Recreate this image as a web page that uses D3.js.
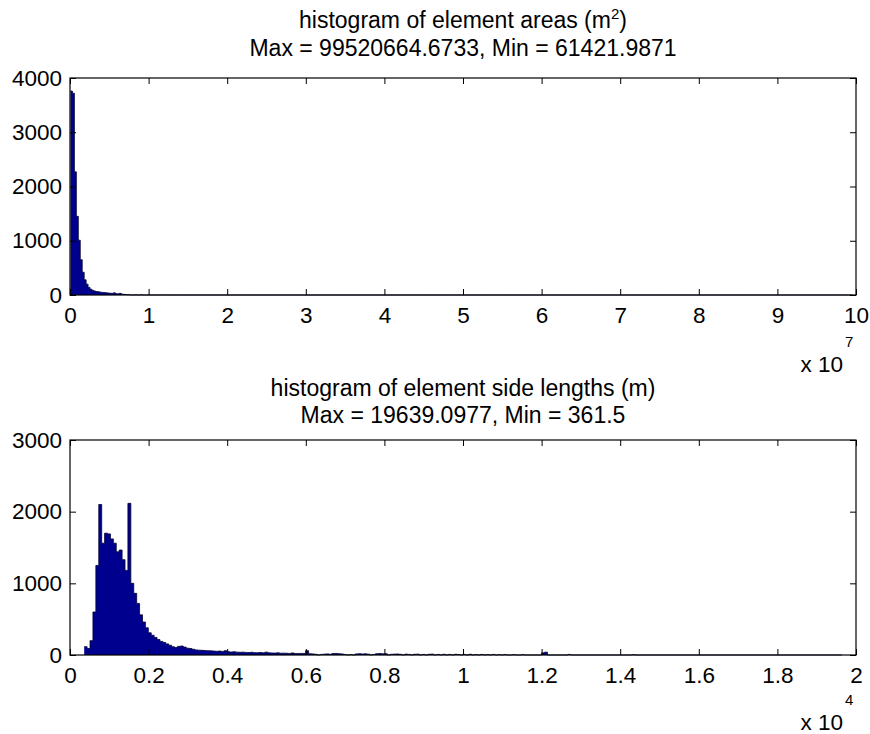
<!DOCTYPE html>
<html>
<head>
<meta charset="utf-8">
<script src="https://cdn.jsdelivr.net/npm/d3@7"></script>
<style>
  html, body { margin: 0; padding: 0; background: #fff; }
  svg { display: block; }
  text { font-family: "Liberation Sans", Arial, Helvetica, sans-serif; fill: #000; }
</style>
</head>
<body>
<script>
// ---- element areas (m^2): 400 equal bins between min and max ----
const areaMin = 61421.9871;
const areaMax = 99520664.6733;
const areaBinCount = 400;
// counts of the first bins, in order
const areaCounts = [3760, 3720, 2270, 1450, 1010, 650, 420, 280, 200, 140,
                    105, 85, 72, 64, 58, 52, 48, 44, 40, 36,
                    33, 30, 40, 25, 22, 30, 15, 12, 8, 6, 5];
// isolated bins further out: [bin index, count]
const areaTail = [[33, 4], [36, 3], [40, 2], [47, 2], [55, 1], [399, 1]];
const areaTicks = [0, 1e7, 2e7, 3e7, 4e7, 5e7, 6e7, 7e7, 8e7, 9e7, 1e8];
const areaTickLabels = ["0", "1", "2", "3", "4", "5", "6", "7", "8", "9", "10"];
const areaYTicks = [0, 1000, 2000, 3000, 4000];
const areaExponent = "7";

// ---- element side lengths (m): 260 equal bins between min and max ----
const sideMin = 361.5;
const sideMax = 19639.0977;
const sideBinCount = 260;
const sideCounts = [116, 90, 200, 600, 1250, 2100, 1560, 1700, 1690, 1620,
                    1560, 1440, 1465, 1330, 1180, 2116, 1000, 860, 720, 560,
                    460, 380, 310, 275, 245, 215, 190, 175, 155, 135,
                    115, 105, 120, 125, 110, 95, 90, 80, 70, 68,
                    65, 62, 60, 58, 55, 52, 55, 50, 60, 45,
                    42, 45, 40, 38, 40, 36, 35, 38, 33, 32,
                    35, 30, 40, 30, 28, 27, 30, 25, 26, 24,
                    22, 28, 22, 20, 22, 22, 60, 18, 15, 10];
const sideTail = [[81, 8], [82, 12], [83, 15], [84, 10], [85, 20], [86, 22], [87, 18],
                  [88, 15], [89, 8], [91, 6], [93, 15], [94, 18], [95, 14], [96, 16],
                  [97, 12], [99, 8], [100, 18], [101, 20], [102, 16], [103, 18], [105, 10],
                  [106, 12], [107, 14], [108, 10], [110, 12], [111, 8], [113, 10], [114, 12],
                  [116, 8], [118, 10], [119, 12], [121, 8], [123, 10], [125, 8], [127, 10],
                  [128, 6], [130, 8], [132, 10], [134, 6], [136, 8], [138, 6], [140, 8],
                  [142, 5], [144, 6], [147, 5], [150, 4], [157, 30], [158, 40], [166, 8],
                  [188, 4], [259, 1]];
const sideTicks = [0, 2000, 4000, 6000, 8000, 10000, 12000, 14000, 16000, 18000, 20000];
const sideTickLabels = ["0", "0.2", "0.4", "0.6", "0.8", "1", "1.2", "1.4", "1.6", "1.8", "2"];
const sideYTicks = [0, 1000, 2000, 3000];
const sideExponent = "4";

const W = 870, H = 734;
const barColor = "#00008f";
const tickLen = 6;

const svg = d3.select("body").append("svg")
  .attr("width", W).attr("height", H)
  .attr("viewBox", `0 0 ${W} ${H}`);
svg.append("rect").attr("width", W).attr("height", H).attr("fill", "#fff");

// Full list of bins (empty bins count 0), each with its left/right edge.
function buildBins(min, max, n, dense, tail) {
  const w = (max - min) / n;
  const counts = new Array(n).fill(0);
  dense.forEach((c, i) => { counts[i] = c; });
  tail.forEach(([i, c]) => { counts[i] = c; });
  return counts.map((c, i) => ({ x0: min + i * w, x1: min + (i + 1) * w, count: c }));
}

function drawPanel(opts) {
  const { left, right, top, bottom, xDomain, yDomain, bins, xTicks, xLabels, yTicks,
          title1, title2, t1y, t2y, exponent, expY } = opts;
  const x = d3.scaleLinear().domain(xDomain).range([left, right]);
  const y = d3.scaleLinear().domain(yDomain).range([bottom, top]);
  const g = svg.append("g");

  // histogram as one stepped silhouette: left edge of every bin, then the last right edge
  const steps = bins.map(b => ({ xv: b.x0, c: b.count }));
  steps.push({ xv: bins[bins.length - 1].x1, c: bins[bins.length - 1].count });
  const area = d3.area().curve(d3.curveStepAfter)
    .x(d => x(d.xv)).y0(bottom).y1(d => y(d.c));
  const line = d3.line().curve(d3.curveStepAfter)
    .x(d => x(d.xv)).y(d => y(d.c));
  g.append("path").datum(steps).attr("d", area).attr("fill", barColor);
  g.append("path").datum(steps).attr("d", line)
    .attr("fill", "none").attr("stroke", "#000030").attr("stroke-width", 0.8);

  // axes with inward ticks on all four sides
  const fmtX = (d, i) => xLabels[i];
  const axB = g.append("g").attr("transform", `translate(0,${bottom})`)
    .call(d3.axisBottom(x).tickValues(xTicks).tickFormat(fmtX).tickSize(-tickLen).tickPadding(12.5));
  const axT = g.append("g").attr("transform", `translate(0,${top})`)
    .call(d3.axisTop(x).tickValues(xTicks).tickFormat("").tickSize(-tickLen));
  const axL = g.append("g").attr("transform", `translate(${left},0)`)
    .call(d3.axisLeft(y).tickValues(yTicks).tickFormat(d3.format("d")).tickSize(-tickLen).tickPadding(8));
  const axR = g.append("g").attr("transform", `translate(${right},0)`)
    .call(d3.axisRight(y).tickValues(yTicks).tickFormat("").tickSize(-tickLen));
  [axB, axT, axL, axR].forEach(a => {
    a.select(".domain").remove();
    a.selectAll("line").attr("stroke", "#000").attr("stroke-width", 1);
    a.selectAll("text").attr("font-size", 22.5).attr("fill", "#000")
      .attr("font-family", "'Liberation Sans', Arial, sans-serif");
  });

  // frame
  g.append("rect")
    .attr("x", left).attr("y", top)
    .attr("width", right - left).attr("height", bottom - top)
    .attr("fill", "none").attr("stroke", "#000").attr("stroke-width", 1.2);

  // titles
  const cx = (left + right) / 2;
  const t1 = g.append("text").attr("x", cx).attr("y", t1y)
    .attr("text-anchor", "middle").attr("font-size", 23);
  title1(t1);
  g.append("text").attr("x", cx).attr("y", t2y)
    .attr("text-anchor", "middle").attr("font-size", 23).text(title2);

  // exponent note under the right end of the x axis
  g.append("text").attr("x", 843).attr("y", expY)
    .attr("text-anchor", "end").attr("font-size", 22.5).text("x 10");
  g.append("text").attr("x", 845).attr("y", expY - 25)
    .attr("font-size", 15).text(exponent);
}

drawPanel({
  left: 70, right: 856, top: 78, bottom: 295,
  xDomain: [0, 1e8], yDomain: [0, 4000],
  bins: buildBins(areaMin, areaMax, areaBinCount, areaCounts, areaTail),
  xTicks: areaTicks, xLabels: areaTickLabels, yTicks: areaYTicks,
  title1: t => {
    t.append("tspan").text("histogram of element areas (m");
    t.append("tspan").attr("font-size", 15).attr("dy", -9).text("2");
    t.append("tspan").attr("dy", 9).text(")");
  },
  title2: "Max = 99520664.6733, Min = 61421.9871",
  t1y: 28, t2y: 56,
  exponent: areaExponent, expY: 372
});

drawPanel({
  left: 70, right: 856, top: 440, bottom: 655,
  xDomain: [0, 20000], yDomain: [0, 3000],
  bins: buildBins(sideMin, sideMax, sideBinCount, sideCounts, sideTail),
  xTicks: sideTicks, xLabels: sideTickLabels, yTicks: sideYTicks,
  title1: t => t.text("histogram of element side lengths (m)"),
  title2: "Max = 19639.0977, Min = 361.5",
  t1y: 396, t2y: 423,
  exponent: sideExponent, expY: 730
});
</script>
</body>
</html>
